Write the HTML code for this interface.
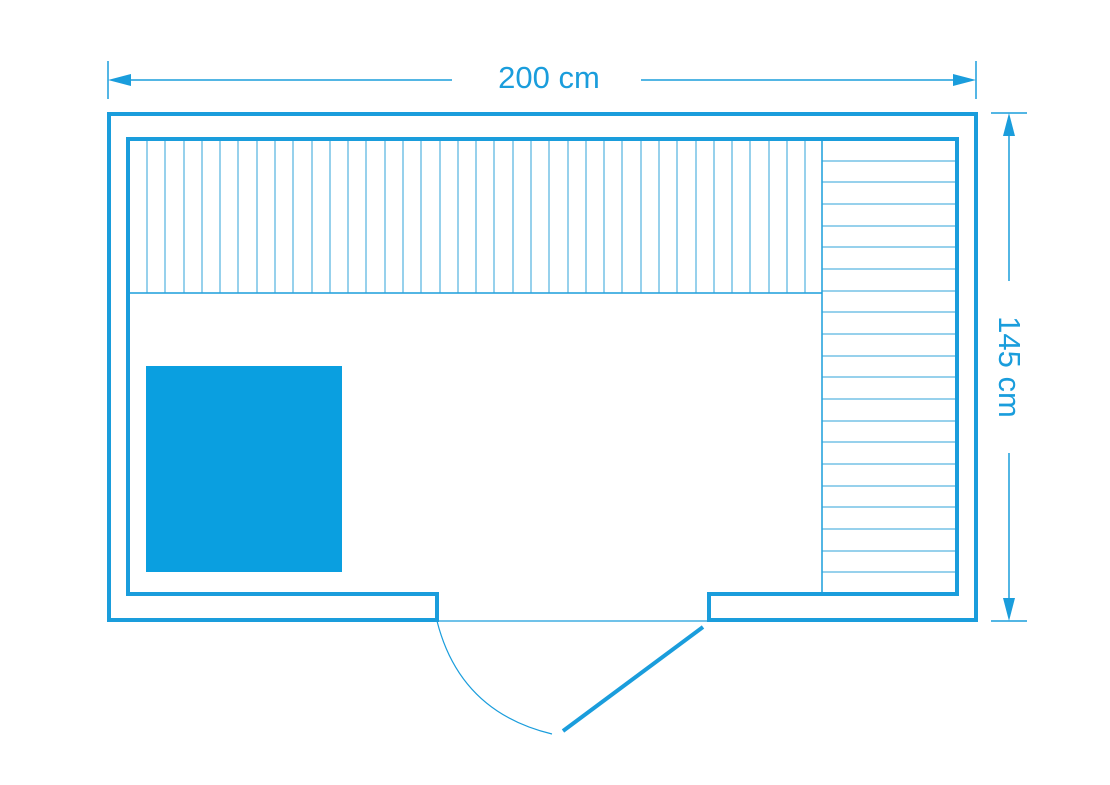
<!DOCTYPE html>
<html><head><style>body{margin:0;background:#fff}</style></head><body>
<svg width="1110" height="780" viewBox="0 0 1110 780" xmlns="http://www.w3.org/2000/svg">
<g stroke="#1a9ddc" fill="none">
<!-- top dimension -->
<line x1="108" y1="61" x2="108" y2="99" stroke-width="1.5"/>
<line x1="976" y1="61" x2="976" y2="99" stroke-width="1.5"/>
<line x1="115" y1="80" x2="452" y2="80" stroke-width="1.5"/>
<line x1="641" y1="80" x2="968" y2="80" stroke-width="1.5"/>
<!-- right dimension -->
<line x1="991" y1="113" x2="1027" y2="113" stroke-width="1.5"/>
<line x1="991" y1="621" x2="1027" y2="621" stroke-width="1.5"/>
<line x1="1009" y1="120" x2="1009" y2="281" stroke-width="1.5"/>
<line x1="1009" y1="453" x2="1009" y2="614" stroke-width="1.5"/>
<!-- walls -->
<path d="M437,620 L109,620 L109,114 L976,114 L976,620 L709,620 L709,594 L957,594 L957,139 L128,139 L128,594 L437,594 Z" stroke-width="4"/>
<line x1="437" y1="621" x2="709" y2="621" stroke-width="1.2"/>
<line x1="128" y1="293" x2="822" y2="293" stroke-width="1.5"/>
<line x1="822" y1="139" x2="822" y2="594" stroke-width="1.5"/>
<!-- door -->
<line x1="703" y1="627" x2="563" y2="731" stroke-width="4"/>
<path d="M437,621 Q460,712 552,734" stroke-width="1.2"/>
</g>
<g fill="#1a9ddc">
<polygon points="108,80 131,74 131,86"/>
<polygon points="976,80 953,74 953,86"/>
<polygon points="1009,113 1003,136 1015,136"/>
<polygon points="1009,621 1003,598 1015,598"/>
<rect x="146" y="366" width="196" height="206" fill="#0a9fe0"/>
</g>
<g stroke="#3aa6d8" stroke-width="1">
<path id="v" d=""/>
</g>
<g id="slats" stroke="#2fa3da" stroke-width="1"></g>
<text x="549" y="88" font-family="Liberation Sans, sans-serif" font-size="31" fill="#1a9ddc" text-anchor="middle">200 cm</text>
<text transform="translate(999,367) rotate(90)" font-family="Liberation Sans, sans-serif" font-size="31" fill="#1a9ddc" text-anchor="middle">145 cm</text>
<g stroke="#2fa3da" stroke-width="1">
<line x1="147" y1="141" x2="147" y2="293"/><line x1="165" y1="141" x2="165" y2="293"/><line x1="184" y1="141" x2="184" y2="293"/><line x1="202" y1="141" x2="202" y2="293"/><line x1="220" y1="141" x2="220" y2="293"/><line x1="238" y1="141" x2="238" y2="293"/><line x1="257" y1="141" x2="257" y2="293"/><line x1="275" y1="141" x2="275" y2="293"/><line x1="293" y1="141" x2="293" y2="293"/><line x1="312" y1="141" x2="312" y2="293"/><line x1="330" y1="141" x2="330" y2="293"/><line x1="348" y1="141" x2="348" y2="293"/><line x1="366" y1="141" x2="366" y2="293"/><line x1="385" y1="141" x2="385" y2="293"/><line x1="403" y1="141" x2="403" y2="293"/><line x1="421" y1="141" x2="421" y2="293"/><line x1="440" y1="141" x2="440" y2="293"/><line x1="458" y1="141" x2="458" y2="293"/><line x1="476" y1="141" x2="476" y2="293"/><line x1="494" y1="141" x2="494" y2="293"/><line x1="513" y1="141" x2="513" y2="293"/><line x1="531" y1="141" x2="531" y2="293"/><line x1="549" y1="141" x2="549" y2="293"/><line x1="568" y1="141" x2="568" y2="293"/><line x1="586" y1="141" x2="586" y2="293"/><line x1="604" y1="141" x2="604" y2="293"/><line x1="622" y1="141" x2="622" y2="293"/><line x1="641" y1="141" x2="641" y2="293"/><line x1="659" y1="141" x2="659" y2="293"/><line x1="677" y1="141" x2="677" y2="293"/><line x1="696" y1="141" x2="696" y2="293"/><line x1="714" y1="141" x2="714" y2="293"/><line x1="732" y1="141" x2="732" y2="293"/><line x1="750" y1="141" x2="750" y2="293"/><line x1="769" y1="141" x2="769" y2="293"/><line x1="787" y1="141" x2="787" y2="293"/><line x1="805" y1="141" x2="805" y2="293"/>
<line x1="822" y1="161" x2="955" y2="161"/><line x1="822" y1="182" x2="955" y2="182"/><line x1="822" y1="204" x2="955" y2="204"/><line x1="822" y1="226" x2="955" y2="226"/><line x1="822" y1="247" x2="955" y2="247"/><line x1="822" y1="269" x2="955" y2="269"/><line x1="822" y1="291" x2="955" y2="291"/><line x1="822" y1="312" x2="955" y2="312"/><line x1="822" y1="334" x2="955" y2="334"/><line x1="822" y1="356" x2="955" y2="356"/><line x1="822" y1="377" x2="955" y2="377"/><line x1="822" y1="399" x2="955" y2="399"/><line x1="822" y1="421" x2="955" y2="421"/><line x1="822" y1="442" x2="955" y2="442"/><line x1="822" y1="464" x2="955" y2="464"/><line x1="822" y1="486" x2="955" y2="486"/><line x1="822" y1="507" x2="955" y2="507"/><line x1="822" y1="529" x2="955" y2="529"/><line x1="822" y1="551" x2="955" y2="551"/><line x1="822" y1="572" x2="955" y2="572"/>
</g>
</svg>
</body></html>
